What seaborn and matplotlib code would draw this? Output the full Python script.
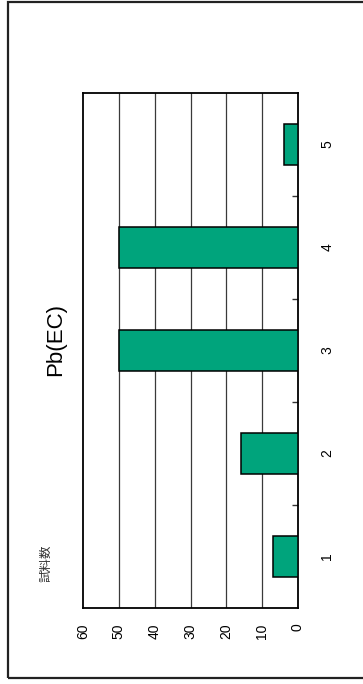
import matplotlib
matplotlib.use("Agg")
import matplotlib.pyplot as plt
from matplotlib.patches import Rectangle
from matplotlib.ticker import FixedLocator
import pandas as pd
import seaborn as sns

# Sample counts per class
categories = ["1", "2", "3", "4", "5"]
counts = [7, 16, 50, 50, 4]
value_ticks = [0, 10, 20, 30, 40, 50, 60]
title = "Pb(EC)"
value_label = "試料数"

sns.set_theme(style="white")
plt.rcParams["font.family"] = ["Liberation Sans", "DejaVu Sans"]

W, H = 363, 684
fig = plt.figure(figsize=(W / 100, H / 100), dpi=100)
fig.patch.set_facecolor("white")

# axes box in pixel coordinates
x0, x1, ytop, ybot = 83, 298, 93, 608
ax = fig.add_axes([x0 / W, 1 - ybot / H, (x1 - x0) / W, (ybot - ytop) / H])

df = pd.DataFrame({"cat": categories, "n": counts})
order = list(reversed(categories))
sns.barplot(data=df, x="n", y="cat", order=order, orient="h",
            color="#00A47C", saturation=1, width=0.4,
            edgecolor="black", linewidth=1.1, ax=ax, zorder=3)

ax.set_xlim(60, 0)
ax.set_xticks(value_ticks)
ax.set_xticklabels([str(v) for v in value_ticks], rotation=90, fontsize=10)
for v in value_ticks[1:-1]:
    ax.axvline(v, color="#3a3a3a", linewidth=0.9, zorder=1)

ax.yaxis.tick_right()
ax.set_yticklabels(order, rotation=90, fontsize=10, va="center")
ax.yaxis.set_minor_locator(FixedLocator([0.5, 1.5, 2.5, 3.5]))
ax.tick_params(axis="y", which="major", length=0, pad=16, labelright=True, labelleft=False)
ax.tick_params(axis="y", which="minor", direction="in", length=4, width=1,
               color="#333333", right=True, left=False)
ax.tick_params(axis="x", which="major", length=0, pad=11, labelcolor="black")
ax.tick_params(axis="y", labelcolor="black")
ax.set_xlabel("")
ax.set_ylabel("")
for s in ax.spines.values():
    s.set_color("black")
    s.set_linewidth(1.3)

fig.text(56 / W, 1 - 340 / H, title, rotation=90, fontsize=16,
         ha="center", va="center", color="black")
fig.text(46 / W, 1 - 563 / H, value_label, rotation=90, fontsize=9,
         ha="center", va="center", color="#333333",
         family=["Noto Sans CJK JP", "DejaVu Sans"])

# outer frame (open on the right, beyond the figure edge)
fig.add_artist(Rectangle((7.5 / W, 6 / H), 1.5, (H - 7.5) / H,
                         transform=fig.transFigure, fill=False,
                         edgecolor="#222222", linewidth=1.6))

fig.savefig("out.png", dpi=100)
